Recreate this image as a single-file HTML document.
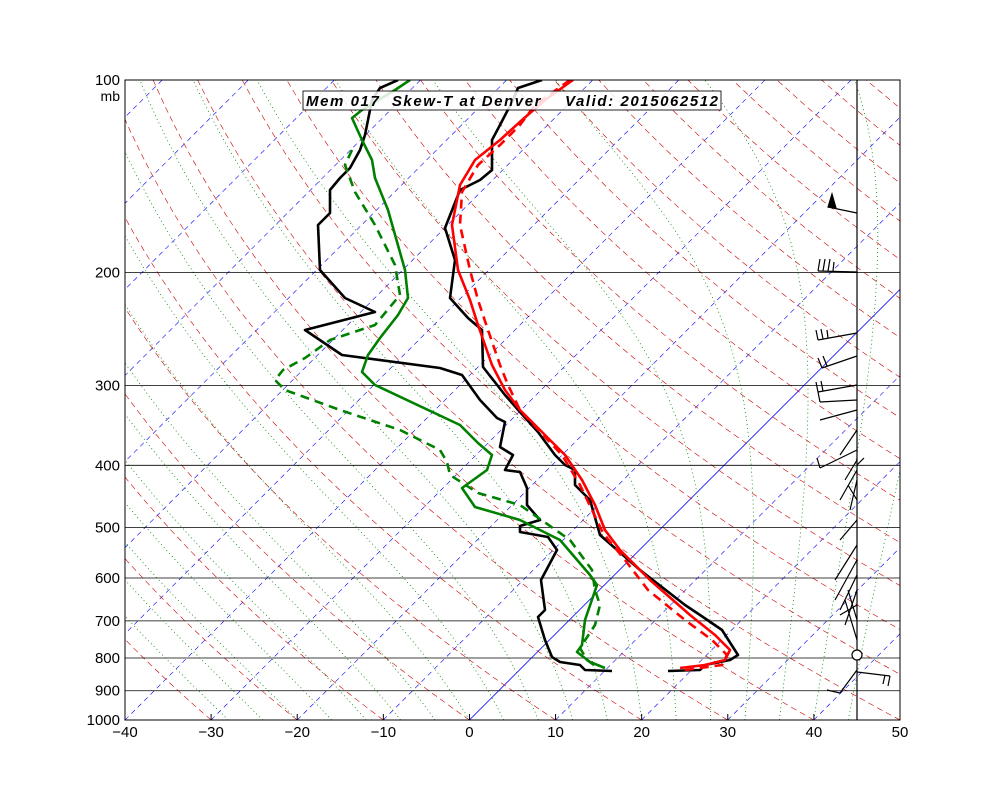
<!DOCTYPE html>
<html><head><meta charset="utf-8"><style>
body{margin:0;background:#fff}
svg{display:block;font-family:"Liberation Sans",sans-serif}
</style></head><body>
<svg id="s" width="1000" height="800" xmlns="http://www.w3.org/2000/svg">
<defs><clipPath id="c"><rect x="125" y="80" width="775" height="640"/></clipPath></defs>
<rect width="1000" height="800" fill="#fff"/>
<g id="bg" clip-path="url(#c)"></g>
<g id="data" clip-path="url(#c)" fill="none" stroke-width="2.6" stroke-linejoin="round">
<polyline stroke="#000" points="398,80 380,88 372,100 368,120 365,135 360,150 350,168 340,178 330,190 330,213 318,225 320,270 345,298 375,312 305,330 342,355 440,368 462,375 480,400 497,418 505,422 500,447 513,455 505,470 520,472 527,488 527,505 540,520 520,526 520,532 548,537 557,550 541,580 545,610 538,617 545,640 552,657 560,662 580,665 585,670 612,671"/>
<polyline stroke="#008000" points="410,80 395,90 362,110 352,118 362,140 372,160 375,178 388,210 405,270 408,298 398,315 380,338 368,355 362,372 375,385 460,425 478,443 492,455 487,470 462,488 475,507 520,520 560,540 590,575 597,585 585,620 582,645 577,652 590,662 605,668"/>
<polyline stroke="#008000" stroke-dasharray="9,6" points="352,150 345,165 355,192 375,225 395,265 400,295 375,325 330,340 305,358 283,370 275,380 285,390 340,410 400,430 440,450 447,462 450,475 478,493 520,505 570,540 592,570 595,590 600,605 595,625 580,648 587,660 598,668"/>
<polyline stroke="#000" points="542,80 518,88 513,100 500,125 492,140 492,170 480,180 460,190 445,228 455,260 450,298 468,318 482,330 483,367 505,395 520,412 538,432 555,455 565,465 575,470 575,485 590,500 600,535 640,570 685,605 700,615 722,630 738,655 730,660 705,665 700,670 668,671"/>
<polyline stroke="#f00" points="573,80 545,100 522,120 500,140 475,160 460,185 452,225 458,270 470,300 478,325 485,345 492,365 505,390 520,410 545,435 565,455 582,480 595,505 605,530 620,550 650,580 690,615 715,635 730,650 725,660 705,665 680,668"/>
<polyline stroke="#f00" stroke-dasharray="9,6" points="570,80 535,105 520,125 500,145 478,165 462,192 460,225 470,270 478,300 488,330 500,365 508,385 520,410 545,437 562,455 580,485 592,510 603,533 625,560 648,590 685,620 712,640 727,655 722,665 700,668 685,670"/>
</g>
<g id="barbs" stroke="#000" stroke-width="1.2" fill="none">
<line x1="857" y1="80" x2="857" y2="720"/>
<line x1="857" y1="213" x2="828" y2="207"/><polygon points="828,207 832,194 836,208" fill="#000"/>
<line x1="857" y1="272" x2="818" y2="271"/><line x1="818" y1="271" x2="820" y2="259"/><line x1="823" y1="271" x2="825" y2="259"/><line x1="828" y1="271" x2="830" y2="259"/><line x1="833" y1="271" x2="834" y2="262"/>
<line x1="857" y1="333" x2="818" y2="340"/><line x1="818" y1="340" x2="816" y2="330"/><line x1="823" y1="339" x2="821" y2="329"/><line x1="828" y1="338" x2="827" y2="330"/>
<line x1="857" y1="356" x2="822" y2="368"/><line x1="822" y1="368" x2="818" y2="358"/><line x1="827" y1="366" x2="823" y2="356"/>
<line x1="857" y1="385" x2="818" y2="392"/><line x1="818" y1="392" x2="816" y2="382"/><line x1="823" y1="391" x2="821" y2="381"/>
<line x1="857" y1="400" x2="820" y2="402"/><line x1="820" y1="402" x2="818" y2="392"/>
<line x1="857" y1="410" x2="820" y2="420"/>
<line x1="857" y1="430" x2="840" y2="455"/><line x1="857" y1="450" x2="820" y2="468"/><line x1="820" y1="468" x2="817" y2="458"/>
<line x1="857" y1="460" x2="845" y2="480"/><line x1="857" y1="470" x2="840" y2="500"/><line x1="857" y1="480" x2="850" y2="510"/><line x1="857" y1="500" x2="848" y2="485"/><line x1="857" y1="465" x2="864" y2="458"/>
<line x1="857" y1="520" x2="840" y2="540"/><line x1="857" y1="545" x2="835" y2="580"/><line x1="857" y1="560" x2="835" y2="600"/><line x1="857" y1="575" x2="840" y2="610"/><line x1="857" y1="590" x2="845" y2="625"/><line x1="857" y1="605" x2="840" y2="615"/><line x1="857" y1="620" x2="848" y2="590"/><line x1="857" y1="640" x2="845" y2="600"/>
<circle cx="857" cy="655" r="5" fill="#fff"/>
<line x1="857" y1="672" x2="890" y2="676"/><line x1="890" y1="676" x2="888" y2="686"/><line x1="885" y1="675" x2="883" y2="684"/>
<line x1="857" y1="670" x2="840" y2="693"/><line x1="840" y1="693" x2="827" y2="690"/>
</g>
<rect x="125" y="80" width="775" height="640" fill="none" stroke="#000" stroke-width="1"/>
<g font-size="15" fill="#000" text-anchor="middle" id="xl"></g>
<g font-size="15" fill="#000" text-anchor="end" id="yl"></g>
<text x="120" y="101" font-size="14" text-anchor="end">mb</text>
<rect x="303" y="91" width="418" height="19" fill="#fff" stroke="#000" stroke-width="1" opacity="0.85"/>
<text x="306" y="106" font-size="15" font-weight="bold" font-style="italic" xml:space="preserve" textLength="412" lengthAdjust="spacing">Mem 017  Skew-T at Denver    Valid: 2015062512</text>
<script>
var NS="http://www.w3.org/2000/svg",bg=document.getElementById("bg");
function Y(p){return 80+640*Math.log10(p/100);}
function X(T,p){return 469.4+T*8.611+(720-Y(p));}
function el(t,a,par){var e=document.createElementNS(NS,t);for(var k in a)e.setAttribute(k,a[k]);(par||bg).appendChild(e);return e;}
function line(pts,st,dash,w){el("polyline",{points:pts.map(function(q){return q[0].toFixed(1)+","+q[1].toFixed(1)}).join(" "),fill:"none",stroke:st,"stroke-dasharray":dash||"","stroke-width":w||0.7});}
for(var T=-150;T<=60;T+=10){line([[X(T,1000),Y(1000)],[X(T,100),Y(100)]],"#00f",T==0?"":"5,4",T==0?0.8:0.6);}
for(var th=-30;th<=220;th+=10){var pts=[];for(var p=1000;p>=100;p-=10){var t=(th+273.15)*Math.pow(p/1000,0.286)-273.15;pts.push([X(t,p),Y(p)]);}line(pts,"#c00","6,4",0.6);}
function es(t){return 6.112*Math.exp(17.67*t/(t+243.5));}
function gm(t,p){var T=t+273.15,e=es(t),r=0.622*e/(p-e),L=2.5e6,Rd=287,cp=1004;
return (Rd*T+L*r)/(cp+L*L*r*0.622/(Rd*T*T))/p;}
for(var t0=-28;t0<=44;t0+=4){var t=t0,pts=[];for(var p=1000;p>=100;p-=2){pts.push([X(t,p),Y(p)]);t-=gm(t,p)*2;}line(pts,"#080","1,3",0.8);}
[200,300,400,500,600,700,800,900].forEach(function(p){el("line",{x1:125,x2:900,y1:Y(p),y2:Y(p),stroke:"#000","stroke-width":0.8});});
var xl=document.getElementById("xl"),yl=document.getElementById("yl");
for(var v=-40;v<=50;v+=10){var x=125+(v+40)*775/90;el("line",{x1:x,x2:x,y1:720,y2:714,stroke:"#000"},xl);el("text",{x:x,y:737},xl).textContent=(v<0?"\u2212"+(-v):v);}
[100,200,300,400,500,600,700,800,900,1000].forEach(function(p){el("text",{x:120,y:Y(p)+5},yl).textContent=p;});
</script>
</svg>
</body></html>
